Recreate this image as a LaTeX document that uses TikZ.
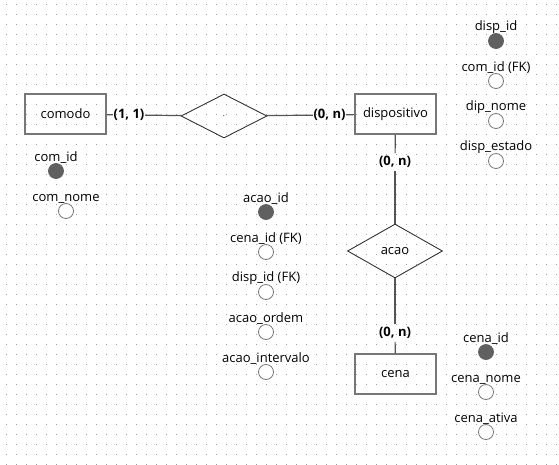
\documentclass[tikz,border=0pt]{standalone}
\usepackage{fontspec}
\setmainfont{Open Sans}
\usetikzlibrary{shapes.geometric,positioning}

\definecolor{borda}{HTML}{777777}
\definecolor{linha}{HTML}{555555}
\definecolor{losango}{HTML}{333333}
\definecolor{chavecor}{HTML}{606060}
\definecolor{ponto}{HTML}{A0A0A0}

\tikzset{
  texto/.style={font=\fontsize{13}{15}\selectfont},
  entidade/.style={texto,draw=borda,line width=1.5pt,minimum width=81pt,minimum height=40pt},
  relacao/.style={texto,diamond,draw=losango,line width=0.9pt,inner sep=0pt},
  card/.style={font=\bfseries\fontsize{13}{15}\selectfont,inner xsep=0.5pt,inner ysep=3pt},
  atrib/.style={circle,draw=borda,line width=0.8pt,fill=white,minimum size=15pt,inner sep=0pt,
    label={[texto,inner sep=0pt,label distance=-1pt]above:#1}},
  chave/.style={atrib=#1,fill=chavecor,draw=chavecor},
  liga/.style={draw=linha,line width=1.2pt}
}

\begin{document}
\begin{tikzpicture}[x=1pt,y=-1pt,node distance=40pt,on grid]
    \useasboundingbox (0,0) rectangle (559,464);
    % fundo pontilhado
    \foreach \i in {0,...,55}
        \foreach \j in {0,...,46}
            \fill[ponto] (6+10*\i,4+10*\j) rectangle ++(1,1);

    \node[entidade] (comodo) at (65.5,114) {comodo};
    \node[entidade] (dispositivo) at (395.5,114) {dispositivo};
    \node[entidade] (cena) at (395.5,374) {cena};
    \node[relacao,minimum width=86pt,minimum height=44pt] (rel_comodo) at (224,116) {\fontsize{8}{8}\selectfont .};
    \node[relacao,minimum width=95pt,minimum height=54pt] (acao) at (395,251) {acao};

    \node[card] (c_comodo) at (129,115) {(1, 1)};
    \node[card] (c_disp_h) at (329.5,115) {(0, n)};
    \node[card] (c_disp_v) at (395,162) {(0, n)};
    \node[card] (c_cena) at (395,333) {(0, n)};

    \path[liga]
        (comodo) edge (c_comodo)
        (c_comodo) edge (rel_comodo)
        (rel_comodo) edge (c_disp_h)
        (c_disp_h) edge (dispositivo)
        (dispositivo) edge (c_disp_v)
        (c_disp_v) edge (acao)
        (acao) edge (c_cena)
        (c_cena) edge (cena);

    % atributos comodo
    \node[chave=com\_id] (com_id) at (56,171) {};
    \node[atrib=com\_nome] (com_nome) at (66,211) {};

    % atributos dispositivo
    \node[chave=disp\_id] (disp_id) at (496,41) {};
    \node[atrib=com\_id (FK)] (disp_com_id) [below=of disp_id] {};
    \node[atrib=dip\_nome] (dip_nome) [below=of disp_com_id] {};
    \node[atrib=disp\_estado] (disp_estado) [below=of dip_nome] {};

    % atributos acao
    \node[chave=acao\_id] (acao_id) at (266,212) {};
    \node[atrib=cena\_id (FK)] (acao_cena_id) [below=of acao_id] {};
    \node[atrib=disp\_id (FK)] (acao_disp_id) [below=of acao_cena_id] {};
    \node[atrib=acao\_ordem] (acao_ordem) [below=of acao_disp_id] {};
    \node[atrib=acao\_intervalo] (acao_intervalo) [below=of acao_ordem] {};

    % atributos cena
    \node[chave=cena\_id] (cena_id) at (486,352) {};
    \node[atrib=cena\_nome] (cena_nome) [below=of cena_id] {};
    \node[atrib=cena\_ativa] (cena_ativa) [below=of cena_nome] {};
\end{tikzpicture}
\end{document}
